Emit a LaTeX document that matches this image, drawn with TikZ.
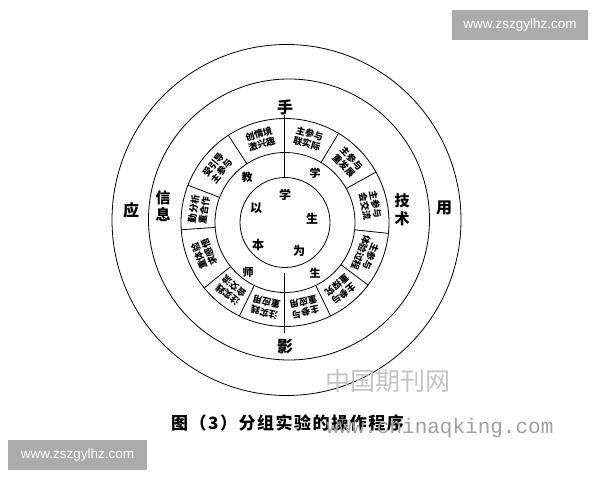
\documentclass[tikz,border=0pt]{standalone}
\usepackage{fontspec}
\setmainfont{Noto Sans CJK SC}
\newfontfamily\monofam{Liberation Mono}
\newfontfamily\wmfam{Liberation Sans}
\definecolor{wmgray}{HTML}{ABABAB}
\definecolor{lightwm}{HTML}{C4C4C4}
\definecolor{midwm}{HTML}{A0A0A0}
\begin{document}
\begin{tikzpicture}[x=1pt,y=1pt,
  ring/.style={draw=black,line width=0.8pt},
  boxtxt/.style={inner sep=0pt,align=center,font=\bfseries\fontsize{9.2}{10.6}\selectfont},
  biglbl/.style={inner sep=0pt,font=\bfseries\fontsize{16}{17}\selectfont},
  stacklbl/.style={inner sep=0pt,align=center,font=\bfseries\fontsize{15}{17.5}\selectfont},
  midlbl/.style={inner sep=0pt,font=\bfseries\fontsize{11}{12}\selectfont},
  inlbl/.style={inner sep=0pt,font=\bfseries\fontsize{12}{13}\selectfont},
  wmbox/.style={fill=wmgray,text=white,inner sep=0pt,minimum width=136,minimum height=30,font=\wmfam\fontsize{13.5}{14}\selectfont}
]
\useasboundingbox (0,0) rectangle (600,480);
\fill[white] (0,0) rectangle (600,480);
\coordinate (C) at (285,257.5);
% rings
\draw[ring] (286.5,260) circle[x radius=174.5,y radius=175.5];
\draw[ring] (289,260.5) circle[radius=140.5];
\draw[ring] (C) circle[radius=104];
\draw[ring] (C) circle[radius=70];
\draw[ring] (C) circle[radius=45];
% radial dividers of box ring
\foreach \a in {59,29,-6,-37,-64,-116,-141,-176,159,123}
  \draw[ring,shift={(C)}] (\a:70) -- (\a:104);
% vertical axis lines
\coordinate (vt1) at (284,365);
\coordinate (vt2) at (284,302.5);
\coordinate (vb1) at (284,207);
\coordinate (vb2) at (284,147);
\draw[ring] (vt1) -- (vt2);
\draw[ring] (vb1) -- (vb2);
% box texts
\node[boxtxt,rotate=16.5]  (bA) at ([shift={(C)}]106.5:87) {创情境\\激兴趣};
\node[boxtxt,rotate=-15.5] (bB) at ([shift={(C)}]74.5:87) {主参与\\联实际};
\node[boxtxt,rotate=-46]   (bC) at ([shift={(C)}]44:87) {主参与\\重发展};
\node[boxtxt,rotate=-78.5] (bD) at ([shift={(C)}]11.5:87) {主参与\\会交流};
\node[boxtxt,rotate=-111.5](bE) at ([shift={(C)}]-21.5:87) {主参与\\体验过程};
\node[boxtxt,rotate=-140.5](bF) at ([shift={(C)}]-50.5:87) {主参与\\重探究};
\node[boxtxt,rotate=-167]  (bG) at ([shift={(C)}]-77:87) {主参与\\重应用};
\node[boxtxt,rotate=167]   (bH) at ([shift={(C)}]-103:87) {注实践\\重应用};
\node[boxtxt,rotate=141.5] (bI) at ([shift={(C)}]-128.5:87) {注实践\\会交流};
\node[boxtxt,rotate=111.5] (bJ) at ([shift={(C)}]-158.5:87) {重体验\\求感悟};
\node[boxtxt,rotate=81.5]  (bK) at ([shift={(C)}]171.5:87) {勤分析\\重合作};
\node[boxtxt,rotate=51]    (bL) at ([shift={(C)}]141:87) {受引导\\主参与};
% ring labels
\node[biglbl] (shou) at (285,373) {手};
\node[biglbl] (ying) at (285,133) {影};
\node[biglbl] (yingy) at (131,270) {应};
\node[biglbl] (yong) at (444,272) {用};
\node[stacklbl] (xinxi) at (163,274) {信\\息};
\node[stacklbl] (jishu) at (402,270) {技\\术};
% middle ring
\node[midlbl] (jiao) at (247,303) {教};
\node[midlbl] (xue1) at (315,307) {学};
\node[midlbl] (sheng1) at (315,207) {生};
\node[midlbl] (shi) at (248,208) {师};
% inner circle
\node[inlbl] (xue2) at (285,285) {学};
\node[inlbl] (yi) at (256,272) {以};
\node[inlbl] (sheng2) at (312,261) {生};
\node[inlbl] (ben) at (258,235) {本};
\node[inlbl] (wei) at (299,229) {为};
% watermarks and caption
\node[text=lightwm,inner sep=0pt,font=\fontsize{25}{26}\selectfont] (wmcn) at (388,99) {中国期刊网};
\node[inner sep=0pt,font=\bfseries\addfontfeature{LetterSpace=9}\fontsize{17}{18}\selectfont] (cap) at (287.5,57) {图（3）分组实验的操作程序};
\node[text=midwm,inner sep=0pt,font=\monofam\fontsize{21}{22}\selectfont] (wmurl) at (440,52) {www.chinaqking.com};
\node[wmbox] (wm1) at (520,455) {www.zszgylhz.com};
\node[wmbox,minimum width=139] (wm2) at (77.5,25) {www.zszgylhz.com};
\end{tikzpicture}
\end{document}
